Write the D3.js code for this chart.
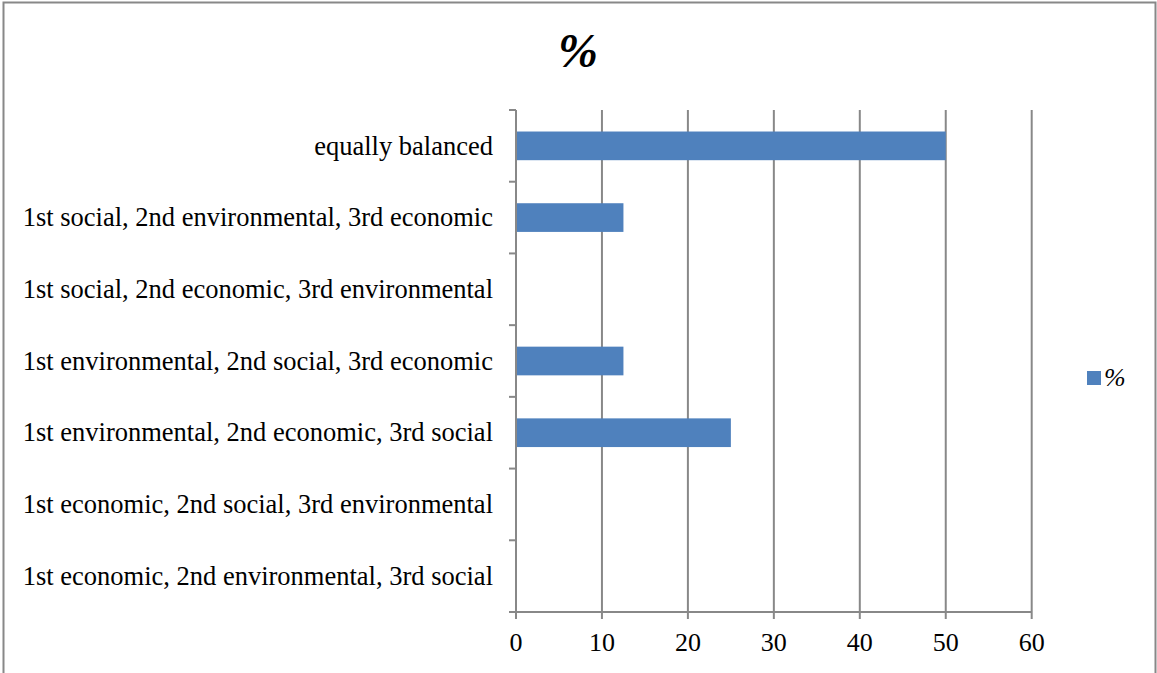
<!DOCTYPE html>
<html><head><meta charset="utf-8">
<script src="https://cdn.jsdelivr.net/npm/d3@7"></script>
<style>body{margin:0;background:#fff}svg{display:block}</style>
</head><body><svg id="c" width="1157" height="673"></svg>
<script>
const categories = ["equally balanced","1st social, 2nd environmental, 3rd economic","1st social, 2nd economic, 3rd environmental","1st environmental, 2nd social, 3rd economic","1st environmental, 2nd economic, 3rd social","1st economic, 2nd social, 3rd environmental","1st economic, 2nd environmental, 3rd social"];
const values = [50, 12.5, 0, 12.5, 25, 0, 0];
const xTicks = [0,10,20,30,40,50,60];
const seriesName = "%";

const svg = d3.select("#c");
const font = "'Liberation Serif','Times New Roman',serif";
// outer border
svg.append("path").attr("d","M3.5,690 V2.5 H1155.5 V690").attr("fill","none").attr("stroke","#888").attr("stroke-width",2);

const L=516, R=1031.7, T=110, B=612;
const x = d3.scaleLinear().domain([0,60]).range([L,R]);
const y = d3.scaleBand().domain(categories).range([T,B]).paddingInner(0.6).paddingOuter(0.3);
const yb = d3.scaleBand().domain(categories).range([T,B]);

// gridlines
svg.append("g").selectAll("line").data(xTicks.slice(1)).join("line")
 .attr("x1",d=>x(d)).attr("x2",d=>x(d)).attr("y1",T).attr("y2",B)
 .attr("stroke","#888").attr("stroke-width",2);

// bars
svg.append("g").selectAll("rect").data(categories).join("rect")
 .attr("x",x(0)).attr("y",d=>y(d)).attr("height",y.bandwidth())
 .attr("width",(d,i)=>x(values[i])-x(0)).attr("fill","#4f81bd");

// y axis
svg.append("line").attr("x1",L).attr("x2",L).attr("y1",T).attr("y2",B).attr("stroke","#888").attr("stroke-width",2);
const bounds = categories.map(d=>yb(d)).concat([B]);
svg.append("g").selectAll("line").data(bounds).join("line")
 .attr("x1",L-7).attr("x2",L).attr("y1",d=>d).attr("y2",d=>d).attr("stroke","#888").attr("stroke-width",2);
svg.append("g").selectAll("text").data(categories).join("text")
 .attr("x",493).attr("y",d=>yb(d)+yb.bandwidth()/2).attr("dy","0.33em")
 .attr("text-anchor","end").attr("font-family",font).attr("font-size",26.5).attr("fill","#000").text(d=>d);

// x axis
svg.append("line").attr("x1",L).attr("x2",R).attr("y1",B).attr("y2",B).attr("stroke","#888").attr("stroke-width",2);
svg.append("g").selectAll("line").data(xTicks).join("line")
 .attr("x1",d=>x(d)).attr("x2",d=>x(d)).attr("y1",B).attr("y2",B+7).attr("stroke","#888").attr("stroke-width",2);
svg.append("g").selectAll("text").data(xTicks).join("text")
 .attr("x",d=>x(d)).attr("y",651).attr("text-anchor","middle")
 .attr("font-family",font).attr("font-size",26).attr("fill","#000").text(d=>d);

// title
svg.append("text").attr("x",578).attr("y",67).attr("text-anchor","middle")
 .attr("font-family",font).attr("font-size",48).attr("font-weight","bold").attr("font-style","italic").text(seriesName);

// legend
svg.append("rect").attr("x",1087).attr("y",371).attr("width",14).attr("height",14).attr("fill","#4f81bd");
svg.append("text").attr("x",1104).attr("y",386).attr("font-family",font).attr("font-size",26).attr("font-style","italic").text(seriesName);
</script></body></html>
